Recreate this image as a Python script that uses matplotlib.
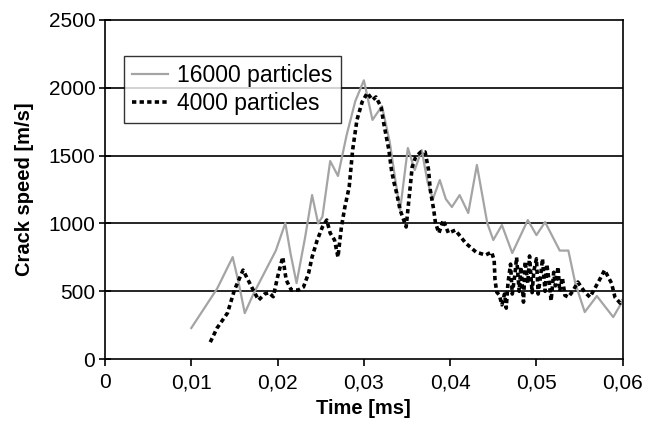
import matplotlib.pyplot as plt
import numpy as np

# 16000 particles (gray line)
t16 = [0.0100, 0.0130, 0.0148, 0.0155, 0.0162, 0.0172, 0.0185, 0.0198, 0.0209,
       0.0215, 0.0222, 0.0232, 0.0240, 0.0247, 0.0252, 0.0261, 0.0270, 0.0280,
       0.0290, 0.0300, 0.0310, 0.0321, 0.0330, 0.0337, 0.0342, 0.0351, 0.0359,
       0.0367, 0.0374, 0.0380, 0.0388, 0.0395, 0.0402, 0.0411, 0.0421, 0.0431,
       0.0443, 0.0450, 0.0460, 0.0472, 0.0490, 0.0500, 0.0510, 0.0527, 0.0537,
       0.0545, 0.0556, 0.0570, 0.0589, 0.0600]
v16 = [229, 520, 752, 560, 339, 480, 640, 800, 1003,
       780, 560, 900, 1209, 1000, 1050, 1460, 1350, 1650,
       1900, 2055, 1763, 1865, 1600, 1300, 1099, 1556, 1394,
       1541, 1300, 1180, 1320, 1180, 1121, 1209, 1077, 1431,
       1003, 878, 988, 782, 1025, 914, 1010, 800, 800,
       560, 347, 465, 310, 430]

# 4000 particles (black dotted)
t4 = [0.0122, 0.0130, 0.0142, 0.0150, 0.0160, 0.0170, 0.0178, 0.0185, 0.0190,
      0.0195, 0.0200, 0.0206, 0.0210, 0.0216, 0.0224, 0.0230, 0.0236, 0.0240,
      0.0246, 0.0252, 0.0257, 0.0261, 0.0266, 0.0270, 0.0274, 0.0278, 0.0283,
      0.0287, 0.0292, 0.0298, 0.0304, 0.0310, 0.0314, 0.0320, 0.0323, 0.0329,
      0.0332, 0.0335, 0.0338, 0.0342, 0.0345, 0.0349, 0.0353, 0.0356, 0.0360,
      0.0366, 0.0371, 0.0375, 0.0377, 0.0381, 0.0383, 0.0387, 0.0392, 0.0398,
      0.0406, 0.0418, 0.0430, 0.0441, 0.0448, 0.0451, 0.0452, 0.0454, 0.0457,
      0.0460, 0.0463, 0.0465, 0.0467, 0.0470, 0.0472, 0.0475, 0.0477, 0.0480,
      0.0482, 0.0485, 0.0487, 0.0490, 0.0492, 0.0495, 0.0497, 0.0500, 0.0502,
      0.0505, 0.0507, 0.0510, 0.0512, 0.0515, 0.0517, 0.0520, 0.0522, 0.0525,
      0.0527, 0.0530, 0.0533, 0.0537, 0.0542, 0.0548, 0.0556, 0.0562, 0.0573,
      0.0579, 0.0587, 0.0591, 0.0597, 0.0600]
v4 = [125, 230, 340, 509, 656, 531, 435, 480, 490,
      460, 605, 752, 583, 509, 509, 531, 634, 752,
      878, 974, 1025, 929, 878, 752, 974, 1121, 1268,
      1541, 1763, 1895, 1962, 1910, 1932, 1858, 1740, 1541,
      1394, 1300, 1224, 1099, 1047, 974, 1224, 1416, 1490,
      1527, 1527, 1394, 1246, 1099, 1003, 929, 1025, 929,
      951, 855, 789, 767, 789, 730, 583, 494, 472,
      400, 480, 376, 560, 700, 480, 620, 750, 500,
      680, 420, 720, 560, 760, 490, 650, 740, 480,
      620, 740, 500, 700, 560, 430, 640, 540, 680,
      500, 600, 470, 457, 500, 568, 494, 457, 583,
      656, 560, 457, 413, 435]

xticks = [0, 0.01, 0.02, 0.03, 0.04, 0.05, 0.06]
xlabels = ["0", "0,01", "0,02", "0,03", "0,04", "0,05", "0,06"]
yticks = [0, 500, 1000, 1500, 2000, 2500]

plt.rcParams['font.family'] = ['Liberation Sans', 'DejaVu Sans']

fig = plt.figure(figsize=(6.48, 4.24), dpi=100)
ax = fig.add_axes([0.162, 0.153, 0.799, 0.800])

ax.plot(t16, v16, color='#a4a4a4', lw=1.6, label='16000 particles')
ax.plot(t4, v4, color='black', lw=2.6, dashes=(1.2, 0.9), label='4000 particles')

ax.set_xlim(0, 0.06)
ax.set_ylim(0, 2500)
ax.set_xticks(xticks)
ax.set_xticklabels(xlabels)
ax.set_yticks(yticks)

for y in [500, 1000, 1500, 2000]:
    ax.axhline(y, color='black', lw=1.2, zorder=0)

for s in ax.spines.values():
    s.set_color('black')
    s.set_linewidth(1.2)

ax.tick_params(axis='both', direction='inout', length=8, width=1.2, labelsize=15, pad=3)
ax.tick_params(axis='x', direction='out', length=5, pad=5)

ax.set_xlabel('Time [ms]', fontsize=14.5, fontweight='bold', labelpad=5)
ax.set_ylabel('Crack speed [m/s]', fontsize=14.5, fontweight='bold', labelpad=10)

leg = ax.legend(loc='upper left', bbox_to_anchor=(0.036, 0.895), fontsize=16.5,
                frameon=True, fancybox=False, handlelength=1.6, borderpad=0.35,
                labelspacing=0.25, handletextpad=0.4, borderaxespad=0)
leg.get_frame().set_edgecolor('black')
leg.get_frame().set_linewidth(1.0)

fig.savefig('out.png', dpi=100)
